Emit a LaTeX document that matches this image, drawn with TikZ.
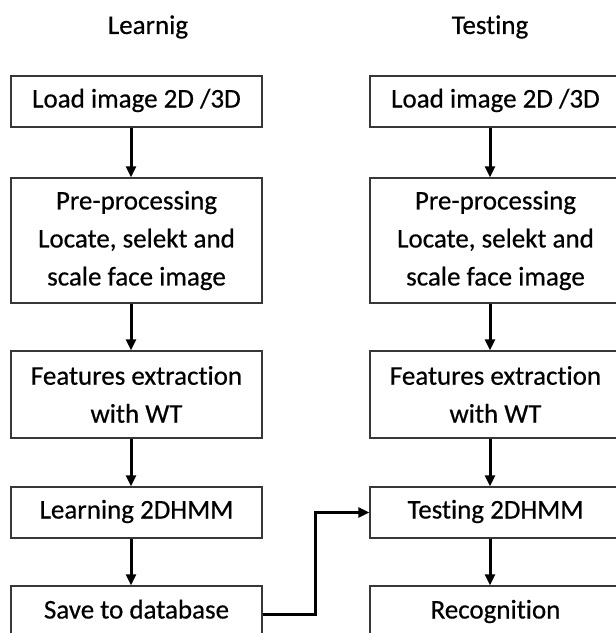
\documentclass[tikz,border=0pt]{standalone}
\usepackage{fontspec}
\setmainfont[Ligatures=NoCommon,FakeBold=0.5]{Carlito}
\usetikzlibrary{arrows.meta}
\definecolor{boxgray}{RGB}{55,55,55}
\begin{document}
\begin{tikzpicture}[x=1pt,y=-1pt,
  box/.style={draw=boxgray, line width=1.3pt, minimum width=251pt, align=center,
    inner sep=0pt, font=\fontsize{27}{38}\selectfont},
  single/.style={text height=18pt, text depth=6pt},
  arr/.style={line width=3pt, -{Triangle[length=11pt,width=10pt]}},
  heading/.style={font=\fontsize{27}{30}\selectfont, inner sep=0pt}]
\useasboundingbox (0,0) rectangle (616,633);
\clip (0,0) rectangle (616,633);
% headings
\node[heading] (hl) at (148,27) {Learnig};
\node[heading] (ht) at (490,27) {Testing};
% left column
\node[box, single, minimum height=51pt] (l1) at (136.5,101.5) {Load image 2D /3D};
\node[box, minimum height=125pt] (l2) at (136.5,240.5) {Pre-processing\\Locate, selekt and\\scale face image};
\node[box, minimum height=87pt] (l3) at (136.5,394.5) {Features extraction\\with WT};
\node[box, single, minimum height=51pt] (l4) at (136.5,512.5) {Learning 2DHMM};
\node[box, single, minimum height=53pt] (l5) at (136.5,612.5) {Save to database};
% right column
\node[box, single, minimum height=51pt] (r1) at (495.5,101.5) {Load image 2D /3D};
\node[box, minimum height=125pt] (r2) at (495.5,240.5) {Pre-processing\\Locate, selekt and\\scale face image};
\node[box, minimum height=87pt] (r3) at (495.5,394.5) {Features extraction\\with WT};
\node[box, single, minimum height=51pt] (r4) at (495.5,512.5) {Testing 2DHMM};
\node[box, single, minimum height=53pt] (r5) at (495.5,612.5) {Recognition};
% arrows
\foreach \a/\b in {l1/l2,l2/l3,l3/l4,l4/l5}{
  \draw[arr] ([xshift=-5.5pt]\a.south) -- ([xshift=-5.5pt]\b.north);
}
\foreach \a/\b in {r1/r2,r2/r3,r3/r4,r4/r5}{
  \draw[arr] ([xshift=-5.5pt]\a.south) -- ([xshift=-5.5pt]\b.north);
}
\coordinate (bend) at (315,614);
\draw[arr] (l5.east |- bend) -- (bend) |- (r4.west);
\end{tikzpicture}
\end{document}
